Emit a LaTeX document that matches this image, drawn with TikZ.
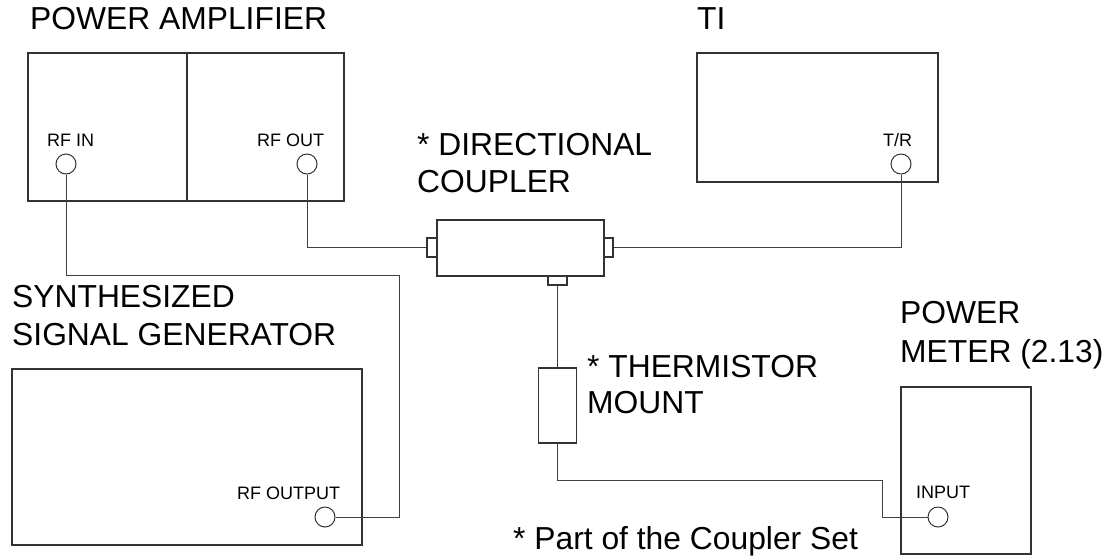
\documentclass[tikz,border=0pt]{standalone}
\usepackage{fontspec}
\setmainfont{Liberation Sans}
\begin{document}
\begin{tikzpicture}[x=1pt,y=-1pt,
  box/.style={draw=black!80, line width=1.2pt, rectangle, inner sep=0pt},
  port/.style={draw=black!80, line width=1pt, circle, inner sep=0pt, minimum size=20pt},
  wire/.style={draw=black!75, line width=1pt},
  big/.style={font=\fontsize{31.8}{37}\selectfont, anchor=base west, inner sep=0pt},
  small/.style={font=\fontsize{18}{21}\selectfont, anchor=base west, inner sep=0pt}]
\useasboundingbox (0,0) rectangle (1114,558);
\fill[white] (0,0) rectangle (1114,558);

% boxes
\node[box, minimum width=316pt, minimum height=148pt] (pa) at (186,127) {};
\node[box, minimum width=241pt, minimum height=129pt] (ti) at (817.5,117.5) {};
\node[box, minimum width=167pt, minimum height=56pt] (dc) at (520.5,248) {};
\node[box, minimum width=10pt, minimum height=19pt] (cl) at (432,247.5) {};
\node[box, minimum width=9pt, minimum height=19pt] (cr) at (608.5,247.5) {};
\node[box, minimum width=19pt, minimum height=9pt] (cb) at (557.5,280.5) {};
\node[box, minimum width=38pt, minimum height=75pt] (th) at (557.5,405.5) {};
\node[box, minimum width=130pt, minimum height=167pt] (pm) at (966,470.5) {};
\node[box, minimum width=350pt, minimum height=176pt] (sg) at (187,457) {};
\coordinate (padivtop) at (187,53);
\coordinate (padivbot) at (187,201);
\draw[black!80, line width=1.2pt] (padivtop) -- (padivbot);

% ports
\node[port] (rfin) at (66,164) {};
\node[port] (paout) at (307,164) {};
\node[port] (tr) at (901,164) {};
\node[port] (sgout) at (325,517) {};
\node[port] (pmin) at (938,517) {};

% labels
\node[big] (lpa) at (30,29) {POWER AMPLIFIER};
\node[big] (lti) at (697,29) {TI};
\node[small] (lrfin) at (47,146) {RF IN};
\node[small] (lrfout) at (257,146) {RF OUT};
\node[small] (ltr) at (883,146) {T/R};
\node[big] (ldc1) at (417,155) {* DIRECTIONAL};
\node[big] (ldc2) at (417,192) {COUPLER};
\node[big] (lsg1) at (12,307) {SYNTHESIZED};
\node[big] (lsg2) at (12,345) {SIGNAL GENERATOR};
\node[small] (lsgout) at (237,499) {RF OUTPUT};
\node[big] (lth1) at (587,377) {* THERMISTOR};
\node[big] (lth2) at (587,413) {MOUNT};
\node[big] (lpm1) at (900,323) {POWER};
\node[big] (lpm2) at (900,362) {METER (2.13)};
\node[small] (lpmin) at (916,498) {INPUT};
\node[big] (lnote) at (513,549) {* Part of the Coupler Set};

% wires
\coordinate (w1) at (399,275);
\coordinate (w2) at (882,480);
\draw[wire] (rfin.south) |- (w1) |- (sgout.east);
\draw[wire] (paout.south) |- (cl.west);
\draw[wire] (tr.south) |- (cr.east);
\draw[wire] (cb.south) -- (th.north);
\draw[wire] (th.south) |- (w2) |- (pmin.west);
\end{tikzpicture}
\end{document}
